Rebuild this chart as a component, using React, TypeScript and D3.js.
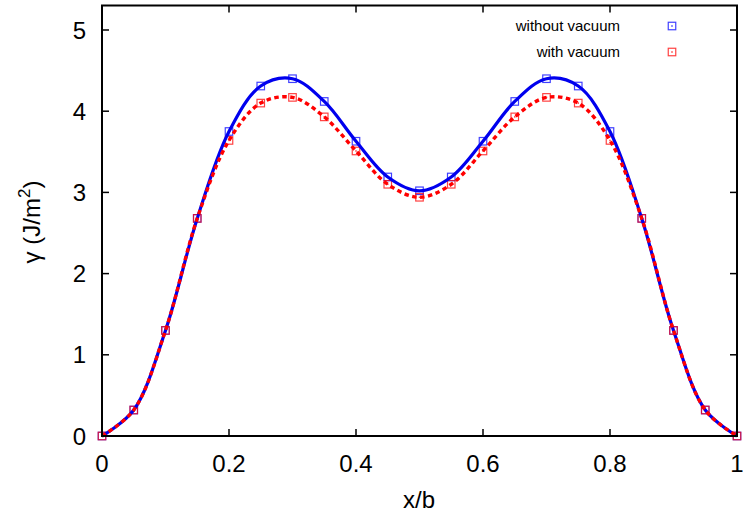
import React from "react";
import * as d3 from "d3";

const xs = [0, 0.05, 0.1, 0.15, 0.2, 0.25, 0.3, 0.35, 0.4, 0.45, 0.5, 0.55, 0.6, 0.65, 0.7, 0.75, 0.8, 0.85, 0.9, 0.95, 1];
const withoutVacuum = [0, 0.32, 1.3, 2.68, 3.75, 4.31, 4.4, 4.12, 3.63, 3.19, 3.02, 3.19, 3.63, 4.12, 4.4, 4.31, 3.75, 2.68, 1.3, 0.32, 0];
const withVacuum = [0, 0.32, 1.3, 2.68, 3.64, 4.1, 4.17, 3.93, 3.51, 3.1, 2.94, 3.1, 3.51, 3.93, 4.17, 4.1, 3.64, 2.68, 1.3, 0.32, 0];
const xTicks = [0, 0.2, 0.4, 0.6, 0.8, 1];
const yTicks = [0, 1, 2, 3, 4, 5];
const legendLabels = ["without vacuum", "with vacuum"];

const W = 743, H = 519;
const L = 102, R = 737, T = 5.5, B = 436;
const FONT = "'Liberation Sans', Arial, Helvetica, sans-serif";

export default function App() {
  const x = d3.scaleLinear().domain([0, 1]).range([L, R]);
  const y = d3.scaleLinear().domain([0, 5]).range([B, B - 5 * 81.2]);
  const line = d3
    .line<number>()
    .x((_, i) => x(xs[i]))
    .y((d) => y(d))
    .curve(d3.curveCatmullRom.alpha(0.5));
  const blue = "#0000ee";
  const red = "#ff0000";
  const sq = 7.5;
  const marker = (cx: number, cy: number, c: string, k: string) => (
    <g key={k}>
      <rect x={cx - sq / 2} y={cy - sq / 2} width={sq} height={sq} fill="none" stroke={c} strokeWidth={1.2} opacity={0.75} />
      <rect x={cx - 0.75} y={cy - 0.75} width={1.5} height={1.5} fill={c} opacity={0.75} />
    </g>
  );
  return (
    <svg width={W} height={H} style={{ position: "absolute", left: 0, top: 0, background: "#fff" }}>
      {/* points */}
      {xs.map((xv, i) => marker(x(xv), y(withoutVacuum[i]), "#0000ff", "b" + i))}
      {xs.map((xv, i) => marker(x(xv), y(withVacuum[i]), red, "r" + i))}
      {/* curves */}
      <path d={line(withoutVacuum) || ""} fill="none" stroke={blue} strokeWidth={3.2} />
      <path d={line(withVacuum) || ""} fill="none" stroke={red} strokeWidth={3.4} strokeDasharray="4.5,3.5" />
      {/* frame */}
      <rect x={L} y={T} width={R - L} height={B - T} fill="none" stroke="#000" strokeWidth={2} />
      {/* ticks */}
      {xTicks.map((t) => (
        <g key={"xt" + t}>
          <line x1={x(t)} x2={x(t)} y1={B} y2={B - 7} stroke="#000" strokeWidth={1.5} />
          <line x1={x(t)} x2={x(t)} y1={T} y2={T + 7} stroke="#000" strokeWidth={1.5} />
          <text x={x(t)} y={472} textAnchor="middle" fontFamily={FONT} fontSize={24} fill="#000">
            {String(t)}
          </text>
        </g>
      ))}
      {yTicks.map((t) => (
        <g key={"yt" + t}>
          <line x1={L} x2={L + 7} y1={y(t)} y2={y(t)} stroke="#000" strokeWidth={1.5} />
          <line x1={R} x2={R - 7} y1={y(t)} y2={y(t)} stroke="#000" strokeWidth={1.5} />
          <text x={86} y={y(t) + 8.5} textAnchor="end" fontFamily={FONT} fontSize={24} fill="#000">
            {String(t)}
          </text>
        </g>
      ))}
      {/* axis titles */}
      <text x={419} y={508} textAnchor="middle" fontFamily={FONT} fontSize={24} fill="#000">x/b</text>
      <text transform={`translate(40,222) rotate(-90)`} textAnchor="middle" fontFamily={FONT} fontSize={24} fill="#000">
        γ (J/m<tspan dy={-10} fontSize={17}>2</tspan><tspan dy={10}>)</tspan>
      </text>
      {/* legend */}
      {legendLabels.map((lab, i) => (
        <g key={"lg" + i}>
          <text x={620} y={31 + i * 26} textAnchor="end" fontFamily={FONT} fontSize={15} fill="#000">{lab}</text>
          {marker(672, 26 + i * 26, i === 0 ? "#0000ff" : red, "lm" + i)}
        </g>
      ))}
    </svg>
  );
}
